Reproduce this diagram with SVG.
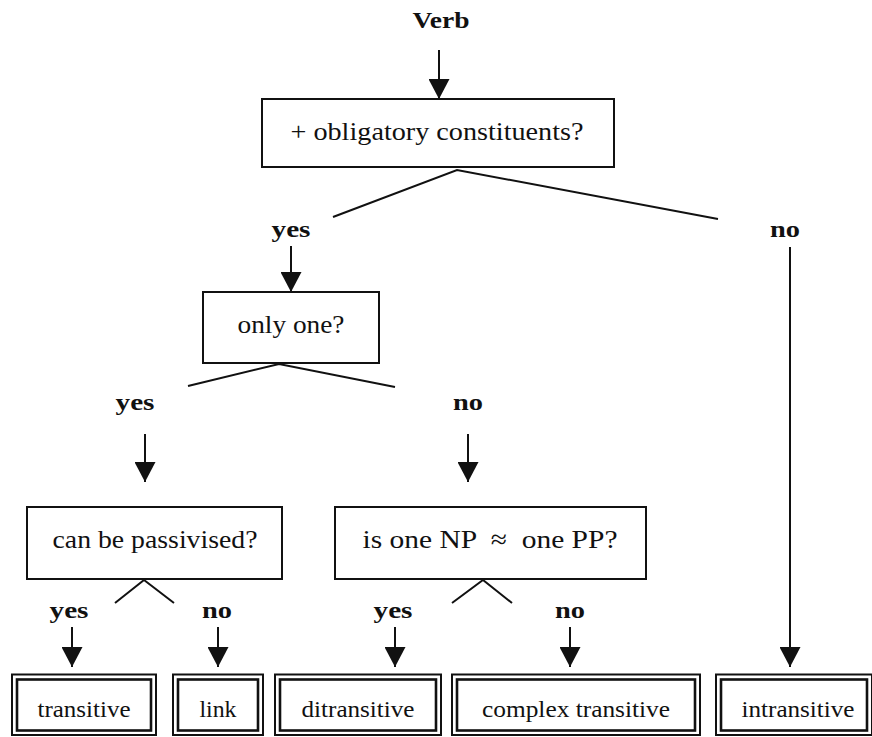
<svg xmlns="http://www.w3.org/2000/svg" width="872" height="737" viewBox="0 0 872 737">
<style>
  .t { font-family: "Liberation Serif", "Times New Roman", serif; fill: #111; text-anchor: middle; }
  .q { font-size: 26px; }
  .leaf { font-size: 24px; }
  .b { font-size: 24px; font-weight: bold; }
  .box { fill: #fff; stroke: #111; stroke-width: 2; }
  .outer { fill: none; stroke: #111; stroke-width: 2; }
  .inner { fill: #fff; stroke: #111; stroke-width: 2.6; }
  .ln { stroke: #111; stroke-width: 2; fill: none; }
</style>
<defs>
  <marker id="ah" viewBox="0 0 20 21" refX="20" refY="10.5" markerWidth="20" markerHeight="21" markerUnits="userSpaceOnUse" orient="auto">
    <path d="M0,0 L20,10.5 L0,21 z" fill="#111"/>
  </marker>
</defs>

<g id="connectors">
  <line class="ln" x1="439" y1="50" x2="439" y2="99" marker-end="url(#ah)"/>
  <polyline class="ln" points="333,217 457,170 718,219"/>
  <line class="ln" x1="291" y1="246" x2="291" y2="292" marker-end="url(#ah)"/>
  <line class="ln" x1="790" y1="247" x2="790" y2="667" marker-end="url(#ah)"/>
  <polyline class="ln" points="188,386 279,364 395,387"/>
  <line class="ln" x1="145" y1="434" x2="145" y2="482" marker-end="url(#ah)"/>
  <line class="ln" x1="468" y1="434" x2="468" y2="482" marker-end="url(#ah)"/>
  <polyline class="ln" points="115,603 144,580 174,603"/>
  <polyline class="ln" points="452,603 483,580 512,603"/>
  <line class="ln" x1="72" y1="627" x2="72" y2="667" marker-end="url(#ah)"/>
  <line class="ln" x1="218" y1="627" x2="218" y2="667" marker-end="url(#ah)"/>
  <line class="ln" x1="395" y1="627" x2="395" y2="667" marker-end="url(#ah)"/>
  <line class="ln" x1="570" y1="627" x2="570" y2="667" marker-end="url(#ah)"/>
</g>

<g id="labels">
  <text class="t b" x="441" y="28" textLength="57" lengthAdjust="spacingAndGlyphs">Verb</text>
  <text class="t b" x="291" y="237" textLength="39" lengthAdjust="spacingAndGlyphs">yes</text>
  <text class="t b" x="785" y="237" textLength="30" lengthAdjust="spacingAndGlyphs">no</text>
  <text class="t b" x="135" y="410" textLength="39" lengthAdjust="spacingAndGlyphs">yes</text>
  <text class="t b" x="468" y="410" textLength="30" lengthAdjust="spacingAndGlyphs">no</text>
  <text class="t b" x="69" y="618" textLength="39" lengthAdjust="spacingAndGlyphs">yes</text>
  <text class="t b" x="217" y="618" textLength="30" lengthAdjust="spacingAndGlyphs">no</text>
  <text class="t b" x="393" y="618" textLength="39" lengthAdjust="spacingAndGlyphs">yes</text>
  <text class="t b" x="570" y="618" textLength="30" lengthAdjust="spacingAndGlyphs">no</text>
</g>

<g id="node-obligatory">
  <rect class="box" x="262" y="99" width="352" height="68"/>
  <text class="t q" x="437" y="140" textLength="293" lengthAdjust="spacingAndGlyphs">+ obligatory constituents?</text>
</g>

<g id="node-onlyone">
  <rect class="box" x="203" y="292" width="176" height="71"/>
  <text class="t q" x="291" y="333" textLength="107" lengthAdjust="spacingAndGlyphs">only one?</text>
</g>

<g id="node-passivised">
  <rect class="box" x="27" y="507" width="255" height="72"/>
  <text class="t q" x="155" y="548" textLength="205" lengthAdjust="spacingAndGlyphs">can be passivised?</text>
</g>

<g id="node-npp">
  <rect class="box" x="335" y="507" width="311" height="72"/>
  <text class="t q" x="490" y="548" textLength="255" lengthAdjust="spacingAndGlyphs" xml:space="preserve">is one NP  ≈  one PP?</text>
</g>

<g id="node-transitive">
  <rect class="outer" x="12" y="674.5" width="144" height="60.5"/>
  <rect class="inner" x="17" y="679.5" width="134" height="51"/>
  <text class="t leaf" x="84" y="717" textLength="93" lengthAdjust="spacingAndGlyphs">transitive</text>
</g>

<g id="node-link">
  <rect class="outer" x="173" y="674.5" width="90" height="60.5"/>
  <rect class="inner" x="178" y="679.5" width="80" height="51"/>
  <text class="t leaf" x="218" y="717" textLength="37" lengthAdjust="spacingAndGlyphs">link</text>
</g>

<g id="node-ditransitive">
  <rect class="outer" x="275" y="674.5" width="166" height="60.5"/>
  <rect class="inner" x="280" y="679.5" width="156" height="51"/>
  <text class="t leaf" x="358" y="717" textLength="113" lengthAdjust="spacingAndGlyphs">ditransitive</text>
</g>

<g id="node-complex">
  <rect class="outer" x="452" y="674.5" width="248" height="60.5"/>
  <rect class="inner" x="457" y="679.5" width="238" height="51"/>
  <text class="t leaf" x="576" y="717" textLength="188" lengthAdjust="spacingAndGlyphs">complex transitive</text>
</g>

<g id="node-intransitive">
  <rect class="outer" x="716" y="674.5" width="156" height="60.5"/>
  <rect class="inner" x="721" y="679.5" width="146" height="51"/>
  <text class="t leaf" x="798" y="717" textLength="113" lengthAdjust="spacingAndGlyphs">intransitive</text>
</g>
</svg>
